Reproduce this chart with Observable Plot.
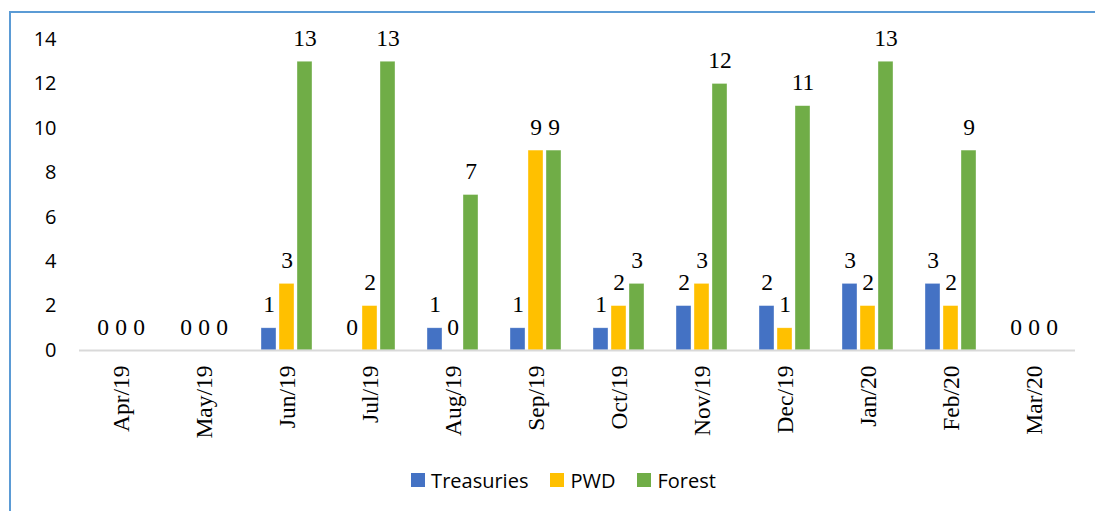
<!DOCTYPE html>
<html>
<head>
<meta charset="utf-8">
<script src="https://cdn.jsdelivr.net/npm/d3@7"></script>
<script src="https://cdn.jsdelivr.net/npm/@observablehq/plot@0.6"></script>
<style>
  html, body { margin: 0; padding: 0; background: #fff; width: 1095px; height: 511px; overflow: hidden; }
  #wrap { position: relative; width: 1095px; height: 511px; }
  #frame { position: absolute; left: 9px; top: 11px; width: 1200px; height: 600px;
           border-left: 2px solid #5b9bd5; border-top: 2px solid #5b9bd5; pointer-events: none; }
  #chart { position: absolute; left: 0; top: 0; }
  #legend { position: absolute; left: 0; top: 466px; width: 1095px; height: 28px;
            display: flex; justify-content: center; align-items: center;
            font-family: "Open Sans", sans-serif; font-size: 20px; color: #000; padding-left: 32px; box-sizing: border-box; }
  .item { display: flex; align-items: center; margin: 0 11px; }
  .sw { width: 14px; height: 14px; margin-right: 6px; }
</style>
</head>
<body>
<div id="wrap">
  <div id="chart"></div>
  <div id="legend"></div>
  <div id="frame"></div>
</div>
<script>
const months = ["Apr/19","May/19","Jun/19","Jul/19","Aug/19","Sep/19","Oct/19","Nov/19","Dec/19","Jan/20","Feb/20","Mar/20"];
const seriesNames = ["Treasuries","PWD","Forest"];
const seriesColors = ["#4472C4","#FFC000","#70AD47"];
const treasuries = [0,0,1,0,1,1,1,2,2,3,3,0];
const pwd        = [0,0,3,2,0,9,2,3,1,2,2,0];
const forest     = [0,0,13,13,7,9,3,12,11,13,9,0];
const yTicks = [0,2,4,6,8,10,12,14];

const seriesValues = [treasuries, pwd, forest];
const data = [];
months.forEach((m, i) => {
  seriesNames.forEach((s, j) => data.push({month: m, series: s, value: seriesValues[j][i]}));
});

const chart = Plot.plot({
  width: 1095,
  height: 455,
  marginLeft: 74,
  marginRight: 15,
  marginTop: 39,
  marginBottom: 105,
  style: {background: "transparent", color: "#000"},
  fx: {domain: months, padding: 0, label: null},
  x: {domain: seriesNames, paddingInner: 0.19, paddingOuter: 0.86, axis: null},
  y: {domain: [0, 14], label: null},
  color: {domain: seriesNames, range: seriesColors},
  marks: [
    Plot.axisY({ticks: yTicks, tickSize: 0, tickPadding: 23, fontSize: 20, fontFamily: "Open Sans", label: null, tickFormat: d => String(d)}),
    Plot.axisFx({anchor: "bottom", tickRotate: -90, tickSize: 0, tickPadding: 15, fontSize: 23.5, fontFamily: "Liberation Serif", label: null}),
    Plot.barY(data, {fx: "month", x: "series", y: "value", fill: "series", stroke: "white", strokeWidth: 0.6, strokeOpacity: 0.6}),
    Plot.ruleY([0], {stroke: "#d9d9d9", strokeWidth: 2}),
    Plot.text(data, {fx: "month", x: "series", y: "value", text: d => String(d.value), lineAnchor: "bottom", dy: -16, fontSize: 23.5, fontFamily: "Liberation Serif", fill: "#000"})
  ]
});
document.getElementById("chart").appendChild(chart);

const legend = document.getElementById("legend");
seriesNames.forEach((s, j) => {
  const it = document.createElement("div");
  it.className = "item";
  const sw = document.createElement("div");
  sw.className = "sw";
  sw.style.background = seriesColors[j];
  const t = document.createElement("span");
  t.textContent = s;
  it.appendChild(sw); it.appendChild(t);
  legend.appendChild(it);
});
</script>
</body>
</html>
